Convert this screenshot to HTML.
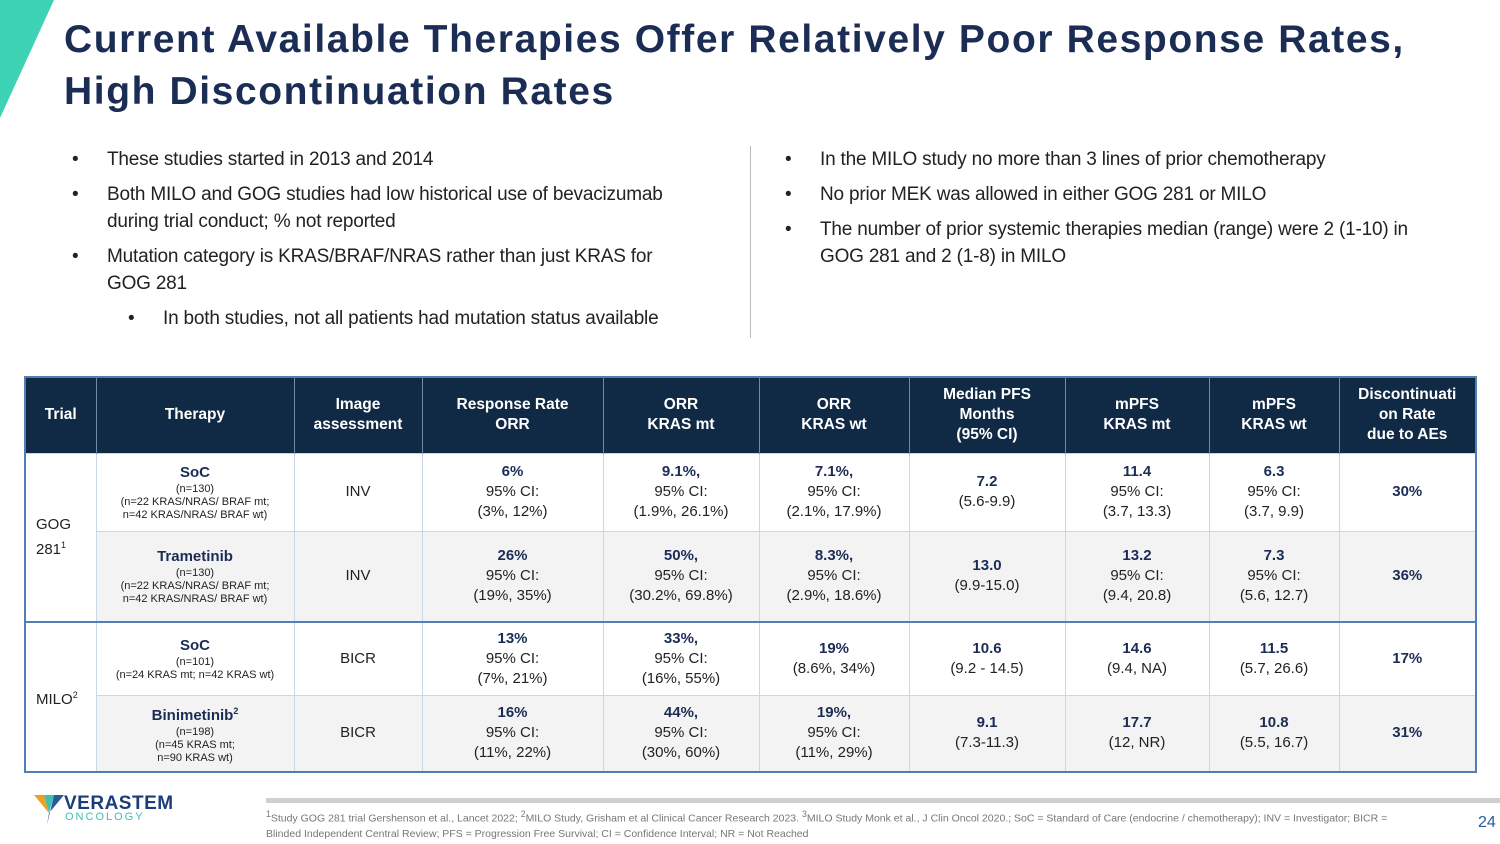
<!DOCTYPE html>
<html><head><meta charset="utf-8"><style>
body{margin:0;width:1500px;height:844px;position:relative;background:#fff;font-family:"Liberation Sans",sans-serif;overflow:hidden;color:#1f2d4f}
.a{position:absolute}
h1{position:absolute;left:64px;top:14px;margin:0;font-size:39px;line-height:52px;font-weight:bold;color:#1b2d55;letter-spacing:1.6px;white-space:nowrap}
ul{position:absolute;margin:0;padding:0;list-style:none;font-size:19px;line-height:27px;color:#222}
li{position:relative;padding-left:43px;margin-bottom:8px}
li:before{content:"•";position:absolute;left:8px}
li.sub{padding-left:99px}
li.sub:before{left:64px}
table{position:absolute;left:24px;top:376px;width:1451px;height:396px;border-collapse:collapse;border:2px solid #4f7fb5;font-size:15px;text-align:center;color:#222;table-layout:fixed}
th{background:#102a45;color:#fff;font-weight:bold;font-size:15.5px;line-height:20px;border-right:1px solid #6f8aa8}
td{border:1px solid #c8d8ea;line-height:20px}
tr.g td{background:#f3f3f3}
tr.sep td{border-top:2px solid #4f7fb5}
b{color:#1b2d55}
small{font-size:11px;line-height:13px;display:block}
</style></head><body>
<svg class="a" style="left:0;top:0" width="56" height="120"><polygon points="0,0 54,0 0,118" fill="#3fd3b5"/></svg>
<h1>Current Available Therapies Offer Relatively Poor Response Rates,<br>High Discontinuation Rates</h1>
<ul style="left:64px;top:146px;width:620px;letter-spacing:-0.2px">
<li>These studies started in 2013 and 2014</li>
<li>Both MILO and GOG studies had low historical use of bevacizumab during trial conduct; % not reported</li>
<li>Mutation category is KRAS/BRAF/NRAS rather than just KRAS for GOG 281</li>
<li class="sub" style="white-space:nowrap">In both studies, not all patients had mutation status available</li>
</ul>
<div class="a" style="left:750px;top:146px;width:1px;height:192px;background:#bbb"></div>
<ul style="left:777px;top:146px;width:675px;letter-spacing:-0.2px">
<li>In the MILO study no more than 3 lines of prior chemotherapy</li>
<li>No prior MEK was allowed in either GOG 281 or MILO</li>
<li>The number of prior systemic therapies median (range) were 2 (1-10) in GOG 281 and 2 (1-8) in MILO</li>
</ul>
<table>
<colgroup><col style="width:71px"><col style="width:198px"><col style="width:128px"><col style="width:181px"><col style="width:156px"><col style="width:150px"><col style="width:156px"><col style="width:144px"><col style="width:130px"><col style="width:137px"></colgroup>
<tr style="height:76px"><th>Trial</th><th>Therapy</th><th>Image<br>assessment</th><th>Response Rate<br>ORR</th><th>ORR<br>KRAS mt</th><th>ORR<br>KRAS wt</th><th>Median PFS<br>Months<br>(95% CI)</th><th>mPFS<br>KRAS mt</th><th>mPFS<br>KRAS wt</th><th>Discontinuati<br>on Rate<br>due to AEs</th></tr>
<tr style="height:78px"><td rowspan="2" style="text-align:left;padding-left:10px;background:#fff">GOG<br>281<sup style="font-size:9px">1</sup></td><td><b>SoC</b><small>(n=130)<br>(n=22 KRAS/NRAS/ BRAF mt;<br>n=42 KRAS/NRAS/ BRAF wt)</small></td><td>INV</td><td><b>6%</b><br>95% CI:<br>(3%, 12%)</td><td><b>9.1%,</b><br>95% CI:<br>(1.9%, 26.1%)</td><td><b>7.1%,</b><br>95% CI:<br>(2.1%, 17.9%)</td><td><b>7.2</b><br>(5.6-9.9)</td><td><b>11.4</b><br>95% CI:<br>(3.7, 13.3)</td><td><b>6.3</b><br>95% CI:<br>(3.7, 9.9)</td><td><b>30%</b></td></tr>
<tr class="g" style="height:91px"><td><b>Trametinib</b><small>(n=130)<br>(n=22 KRAS/NRAS/ BRAF mt;<br>n=42 KRAS/NRAS/ BRAF wt)</small></td><td>INV</td><td><b>26%</b><br>95% CI:<br>(19%, 35%)</td><td><b>50%,</b><br>95% CI:<br>(30.2%, 69.8%)</td><td><b>8.3%,</b><br>95% CI:<br>(2.9%, 18.6%)</td><td><b>13.0</b><br>(9.9-15.0)</td><td><b>13.2</b><br>95% CI:<br>(9.4, 20.8)</td><td><b>7.3</b><br>95% CI:<br>(5.6, 12.7)</td><td><b>36%</b></td></tr>
<tr class="sep" style="height:73px"><td rowspan="2" style="text-align:left;padding-left:10px;background:#fff">MILO<sup style="font-size:9px">2</sup></td><td><b>SoC</b><small>(n=101)<br>(n=24 KRAS mt; n=42 KRAS wt)</small></td><td>BICR</td><td><b>13%</b><br>95% CI:<br>(7%, 21%)</td><td><b>33%,</b><br>95% CI:<br>(16%, 55%)</td><td><b>19%</b><br>(8.6%, 34%)</td><td><b>10.6</b><br>(9.2 - 14.5)</td><td><b>14.6</b><br>(9.4, NA)</td><td><b>11.5</b><br>(5.7, 26.6)</td><td><b>17%</b></td></tr>
<tr class="g" style="height:77px"><td><b>Binimetinib<sup style="font-size:9px">2</sup></b><small>(n=198)<br>(n=45 KRAS mt;<br>n=90 KRAS wt)</small></td><td>BICR</td><td><b>16%</b><br>95% CI:<br>(11%, 22%)</td><td><b>44%,</b><br>95% CI:<br>(30%, 60%)</td><td><b>19%,</b><br>95% CI:<br>(11%, 29%)</td><td><b>9.1</b><br>(7.3-11.3)</td><td><b>17.7</b><br>(12, NR)</td><td><b>10.8</b><br>(5.5, 16.7)</td><td><b>31%</b></td></tr>
</table>
<div class="a" style="left:34px;top:793px">
<svg width="30" height="34" style="position:absolute;left:0;top:0"><polygon points="0,2 10,2 15,20" fill="#f0a020"/><polygon points="10,2 20,2 15,20" fill="#3fc0b0"/><polygon points="20,2 30,2 15,20 13,32" fill="#2a5a9a"/></svg>
<div class="a" style="left:30px;top:0;font-size:19px;font-weight:bold;color:#1b3d7a;letter-spacing:0.5px">VERASTEM</div>
<div class="a" style="left:31px;top:18px;font-size:11px;color:#3fc0b0;letter-spacing:2px">ONCOLOGY</div>
</div>
<div class="a" style="left:266px;top:798px;width:1234px;height:5px;background:#d0d0d0"></div>
<div class="a" style="left:266px;top:807px;width:1140px;font-size:10.5px;line-height:15px;color:#777"><sup>1</sup>Study GOG 281 trial Gershenson et al., Lancet 2022; <sup>2</sup>MILO Study, Grisham et al Clinical Cancer Research 2023. <sup>3</sup>MILO Study Monk et al., J Clin Oncol 2020.; SoC = Standard of Care (endocrine / chemotherapy); INV = Investigator; BICR = Blinded Independent Central Review; PFS = Progression Free Survival; CI = Confidence Interval; NR = Not Reached</div>
<div class="a" style="left:1478px;top:814px;font-size:16px;color:#2a5a9a">24</div>
</body></html>
